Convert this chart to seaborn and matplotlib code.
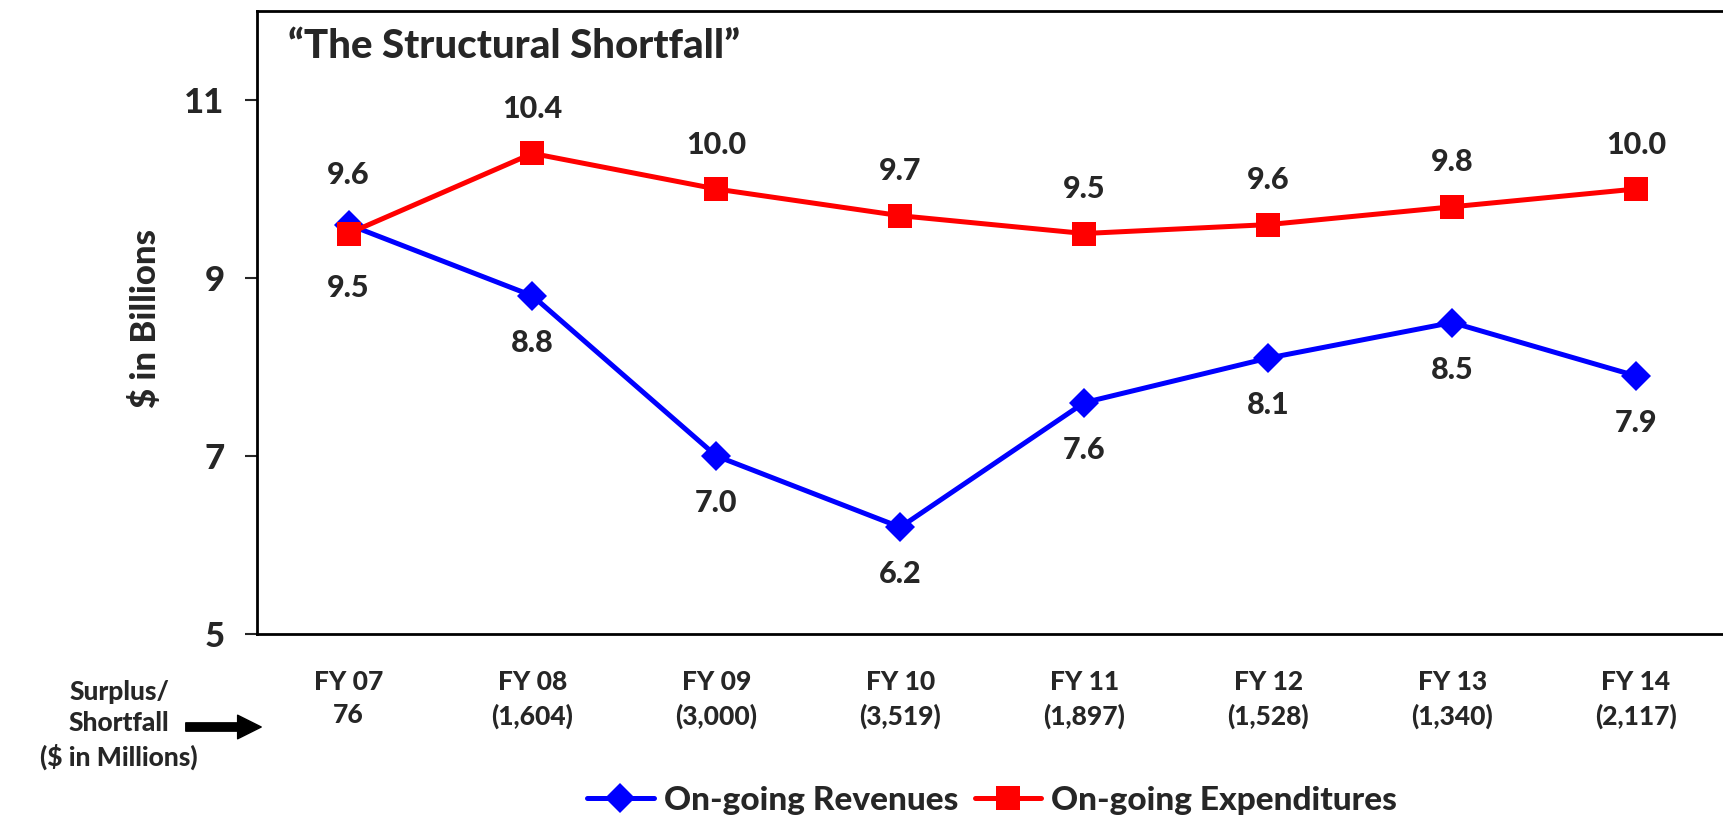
import numpy as np
import pandas as pd
import matplotlib
matplotlib.use("Agg")
import matplotlib.pyplot as plt
import seaborn as sns

# ---------- data ----------
years = ["FY 07", "FY 08", "FY 09", "FY 10", "FY 11", "FY 12", "FY 13", "FY 14"]
gap_labels = ["76", "(1,604)", "(3,000)", "(3,519)", "(1,897)", "(1,528)", "(1,340)", "(2,117)"]
revenues = [9.6, 8.8, 7.0, 6.2, 7.6, 8.1, 8.5, 7.9]
expenditures = [9.5, 10.4, 10.0, 9.7, 9.5, 9.6, 9.8, 10.0]

sns.set_style("white")
plt.rcParams["font.family"] = ["Lato", "DejaVu Sans"]
W = "black"

df = pd.DataFrame({"pos": np.arange(len(years)), "year": years,
                   "rev": revenues, "exp": expenditures})

fig = plt.figure(figsize=(17.23, 8.22), dpi=100)
ax = fig.add_axes([0.1489, 0.2287, 0.8540, 0.7579])

sns.lineplot(data=df, x="pos", y="rev", ax=ax, color="#0000FF", linewidth=3.6,
             marker="D", markersize=15, markeredgewidth=0, label="On-going Revenues")
sns.lineplot(data=df, x="pos", y="exp", ax=ax, color="#FF0000", linewidth=3.6,
             marker="s", markersize=17, markeredgewidth=0, label="On-going Expenditures")

# value labels
for i, (r, e) in enumerate(zip(revenues, expenditures)):
    if i == 0:
        r_off, e_off = 36, -39
    else:
        r_off, e_off = -34, 32
    ax.annotate(f"{r:.1f}", (i, r), xytext=(0, r_off), textcoords="offset points",
                ha="center", va="center", fontsize=22, fontweight=W)
    ax.annotate(f"{e:.1f}", (i, e), xytext=(0, e_off), textcoords="offset points",
                ha="center", va="center", fontsize=22, fontweight=W)

ax.set_xlim(-0.5, len(years) - 0.5)
ax.set_ylim(5, 12)
ax.set_yticks([5, 7, 9, 11])
ax.set_yticklabels(["5", "7", "9", "11"], fontsize=25, fontweight=W)
ax.set_xticks(df["pos"])
ax.set_xticklabels([f"{y}\n{g}" for y, g in zip(years, gap_labels)],
                   fontsize=19, fontweight=W, linespacing=1.45)
ax.set_xticks(np.arange(-0.5, len(years), 1.0), minor=True)
ax.tick_params(axis="x", which="major", length=0, pad=26)
ax.tick_params(axis="x", which="minor", length=9, width=1.5, direction="out")
ax.tick_params(axis="y", length=9, width=1.5, direction="out", pad=14, left=True)
ax.set_xlabel("")
ax.set_ylabel("")

for side in ["left", "bottom", "top", "right"]:
    ax.spines[side].set_color("black")
    ax.spines[side].set_linewidth(2)

fig.text(288 / 1723, 1 - 46 / 822, "\u201cThe Structural Shortfall\u201d",
         ha="left", va="center", fontsize=29, fontweight=W)
fig.text(146 / 1723, 1 - 318 / 822, "$ in Billions", rotation=90,
         ha="center", va="center", fontsize=25, fontweight=W)
fig.text(119 / 1723, 1 - 725 / 822, "Surplus/\nShortfall\n($ in Millions)",
         ha="center", va="center", fontsize=19, fontweight=W, linespacing=1.35)
fig.patches.append(matplotlib.patches.FancyArrowPatch(
    (183 / 1723, 1 - 727 / 822), (264 / 1723, 1 - 727 / 822),
    transform=fig.transFigure, arrowstyle="simple,head_length=0.85,head_width=0.85,tail_width=0.3",
    mutation_scale=20, color="black"))

ax.get_legend().remove()
handles, labels = ax.get_legend_handles_labels()
fig.legend(handles, labels, loc="center", bbox_to_anchor=(992 / 1723, 22 / 822),
           ncol=2, frameon=False, handlelength=2.0, handletextpad=0.3,
           columnspacing=0.5, prop={"size": 24, "weight": W})

fig.savefig("out.png", dpi=100)
